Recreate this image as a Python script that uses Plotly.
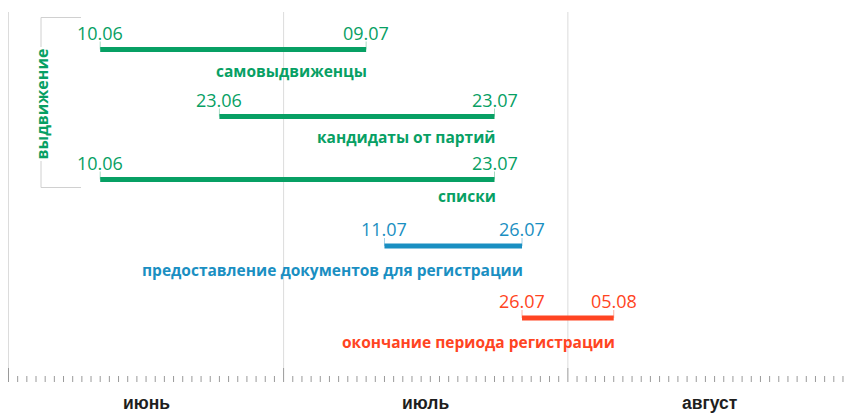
import datetime as dt
import plotly.graph_objects as go

# data
stages = ["самовыдвиженцы", "кандидаты от партий", "списки",
          "предоставление документов для регистрации",
          "окончание периода регистрации"]
start_dates = ["10.06", "23.06", "10.06", "11.07", "26.07"]
end_dates = ["09.07", "23.07", "23.07", "26.07", "05.08"]
months = ["июнь", "июль", "август"]
month_days = [30, 31, 31]
group_label = "выдвижение"

# layout / style
GREEN, BLUE, RED = "#07a064", "#1a8fc2", "#ff4422"
PALE = {GREEN: "#a8dcc4", BLUE: "#a4d0e6", RED: "#ffb3a4"}
colors = [GREEN, GREEN, GREEN, BLUE, RED]
row_y = [49.5, 116.5, 179.5, 246, 318]
label_gap = [12, 11, 7, 14, 14]
W, H = 848, 414
X0, PX = 8.5, 9.17          # pixel of 1 June, pixels per day
FONT = "Open Sans"


def day_pos(s):
    d, m = (int(v) for v in s.split("."))
    return (dt.date(2000, m, d) - dt.date(2000, 6, 1)).days + 1


def px_to_day(p):
    return (p - X0) / PX


fig = go.Figure()

# month grid lines
bounds = [0]
for n in month_days:
    bounds.append(bounds[-1] + n)
gx, gy = [], []
for b in bounds[:-1]:
    gx += [b, b, None]
    gy += [12, 368, None]
fig.add_trace(go.Scatter(x=gx, y=gy, mode="lines",
                         line=dict(color="#dcdcdc", width=1), hoverinfo="skip"))

# day ticks
tx, ty = [], []
for d in range(bounds[-1] + 1):
    top = 368 if d in bounds[:-1] else 376
    tx += [d, d, None]
    ty += [top, 382, None]
fig.add_trace(go.Scatter(x=tx, y=ty, mode="lines",
                         line=dict(color="#9a9a9a", width=1), hoverinfo="skip"))

# bracket for group
bx = [px_to_day(81), px_to_day(41), px_to_day(41), px_to_day(81)]
fig.add_trace(go.Scatter(x=bx, y=[17.5, 17.5, 187.5, 187.5], mode="lines",
                         line=dict(color="#d0d0d0", width=1), hoverinfo="skip"))

annotations = []
for name, s, e, c, y, g in zip(stages, start_dates, end_dates, colors, row_y, label_gap):
    xs, xe = day_pos(s), day_pos(e)
    # end ticks
    fig.add_trace(go.Scatter(x=[xs, xs, None, xe, xe], y=[y - 8, y, None, y - 8, y],
                             mode="lines", line=dict(color=PALE[c], width=1),
                             hoverinfo="skip"))
    fig.add_trace(go.Scatter(x=[xs, xe], y=[y, y], mode="lines",
                             line=dict(color=c, width=5), hoverinfo="skip"))
    for xv, txt in ((xs, s), (xe, e)):
        annotations.append(dict(x=xv, y=y - 17, text=txt, showarrow=False,
                                xanchor="center", yanchor="middle",
                                font=dict(family=FONT, size=18, color=c)))
    annotations.append(dict(x=xe, y=y + g - 3.5, text="<b>" + name + "</b>",
                            showarrow=False, xanchor="right", yanchor="top",
                            xshift=3,
                            font=dict(family=FONT, size=15.5, color=c)))

annotations.append(dict(x=px_to_day(41.5), y=104, text="<b>" + group_label + "</b>",
                        showarrow=False, textangle=-90, bgcolor="white",
                        font=dict(family=FONT, size=16, color=GREEN)))

for m, a, b in zip(months, bounds[:-1], bounds[1:]):
    annotations.append(dict(x=(a + b) / 2, y=H, text="<b>" + m + "</b>",
                            showarrow=False, yanchor="bottom", borderpad=0,
                            font=dict(family="Liberation Sans", size=17.5,
                                      color="#1e1e1e")))

fig.update_layout(
    width=W, height=H, margin=dict(l=0, r=0, t=0, b=0),
    plot_bgcolor="white", paper_bgcolor="white", showlegend=False,
    xaxis=dict(range=[px_to_day(0), px_to_day(W)], visible=False, fixedrange=True),
    yaxis=dict(range=[H, 0], visible=False, fixedrange=True),
    annotations=annotations,
)

fig.write_html("out.html", config={"displayModeBar": False},
               post_script="document.body.style.margin='0';")
